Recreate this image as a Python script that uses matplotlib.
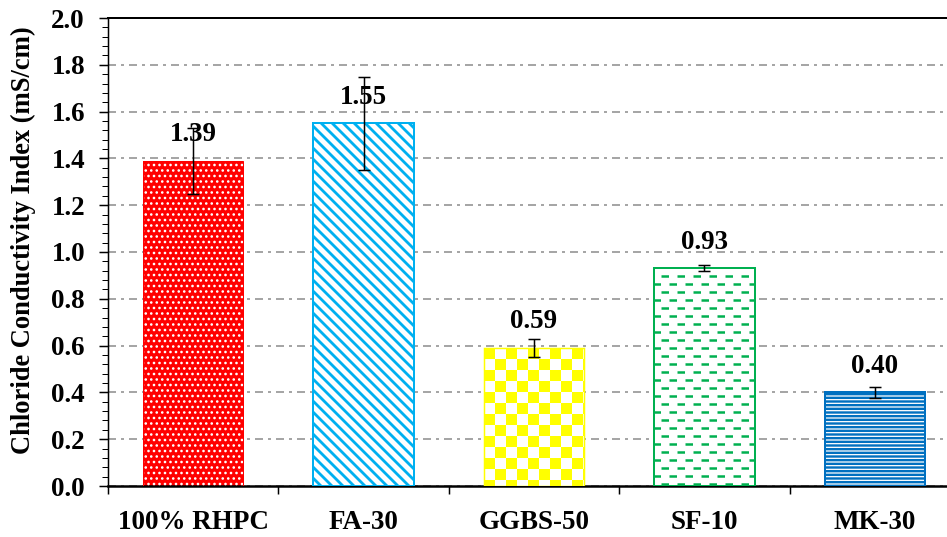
import numpy as np
import matplotlib
matplotlib.use('Agg')
import matplotlib.pyplot as plt
from matplotlib.colors import ListedColormap
from matplotlib.ticker import MultipleLocator, FormatStrFormatter

# chloride conductivity per mix, with standard deviation
mixes = ['100% RHPC', 'FA-30', 'GGBS-50', 'SF-10', 'MK-30']
conductivity = [1.39, 1.55, 0.59, 0.93, 0.40]
errors = [0.14, 0.20, 0.037, 0.013, 0.025]

DPI = 66
PT = 72.0 / DPI  # points per pixel

RED = '#FF0000'
CYAN = '#00B0F0'
YELLOW = '#FFFF00'
GREEN = '#00B050'
BLUE = '#0070C0'

plt.rcParams['font.family'] = 'Liberation Serif'
plt.rcParams['font.weight'] = 'bold'
plt.rcParams['lines.scale_dashes'] = False

W, H = 947, 537
fig = plt.figure(figsize=(W / DPI, H / DPI), dpi=DPI)
ax_w, ax_h = 852, 468
ax = fig.add_axes([108 / W, 51 / H, ax_w / W, ax_h / H])
sx = ax_w / 5.0   # pixels per x unit
sy = ax_h / 2.0   # pixels per y unit

x = np.arange(len(mixes))
width = 0.59

base = ax.bar(x, conductivity, width,
              color=[RED, 'white', 'white', 'white', 'white'],
              edgecolor='none', zorder=2)


def hatch_layer(i, hatch, color, lw_px):
    with plt.rc_context({'hatch.linewidth': lw_px * PT}):
        bars = ax.bar(x[i], conductivity[i], width, facecolor='none',
                      edgecolor=color, hatch=hatch, linewidth=0, zorder=3)
    for b in bars:
        if hasattr(b, 'set_hatch_linewidth'):
            b.set_hatch_linewidth(lw_px * PT)


# 100% RHPC: white dots on red
hatch_layer(0, '..', 'white', 1.5)
# FA-30: diagonal stripes
hatch_layer(1, '\\\\', CYAN, 2.8)
# MK-30: dense horizontal stripes
hatch_layer(4, '---', BLUE, 2.4)

# GGBS-50: checkerboard
b = base[2]
cell = 11.0
nx = int(np.ceil(width * sx / cell))
ny = int(np.ceil(conductivity[2] * sy / cell))
xe = b.get_x() + np.arange(nx + 1) * cell / sx
ye = conductivity[2] - np.arange(ny + 1)[::-1] * cell / sy
cells = np.add.outer(np.arange(ny) + ny + 1, np.arange(nx)) % 2
mesh = ax.pcolormesh(xe, ye, cells, cmap=ListedColormap([YELLOW, 'white']),
                     shading='flat', antialiased=False, zorder=3)
mesh.set_clip_path(b)

# SF-10: staggered green dashes
b = base[3]
step = 8.0 / sy
for k, yy in enumerate(np.arange(conductivity[3] - step, 0, -step)):
    offset = 9.0 if k % 2 == 0 else 1.0
    ln, = ax.plot([b.get_x(), b.get_x() + width], [yy, yy], color=GREEN,
                  lw=2.5 * PT, zorder=3,
                  linestyle=(offset * PT, (7.5 * PT, 8.5 * PT)))
    ln.set_clip_path(b)

# outlines
ax.bar(x, conductivity, width, facecolor='none',
       edgecolor=[RED, CYAN, YELLOW, GREEN, BLUE],
       linewidth=[1.0 * PT, 2.0 * PT, 1.5 * PT, 2.0 * PT, 2.0 * PT], zorder=4)

for xi, v in zip(x, conductivity):
    ax.annotate(f'{v:.2f}', (xi, v), xytext=(0, 26 * PT),
                textcoords='offset points', ha='center', va='center',
                fontsize=27 * PT, fontweight='bold', zorder=5)

ax.errorbar(x, conductivity, yerr=errors, fmt='none', ecolor='black',
            elinewidth=1.5 * PT, capsize=6 * PT, capthick=1.5 * PT, zorder=6)

ax.set_xlim(-0.5, 4.5)
ax.set_ylim(0, 2.0)
ax.yaxis.set_major_locator(MultipleLocator(0.2))
ax.yaxis.set_minor_locator(MultipleLocator(0.04))
ax.yaxis.set_major_formatter(FormatStrFormatter('%.1f'))
ax.set_xticks(x)
ax.set_xticklabels(mixes)
ax.set_xticks(np.arange(-0.5, 5, 1), minor=True)

ax.tick_params(axis='x', which='major', length=0, pad=24 * PT,
               labelsize=27 * PT)
ax.tick_params(axis='x', which='minor', length=8 * PT, width=1.5 * PT,
               direction='out')
ax.tick_params(axis='y', which='major', length=9 * PT, width=1.5 * PT,
               direction='out', pad=14 * PT, labelsize=27 * PT)
ax.tick_params(axis='y', which='minor', length=6 * PT, width=1.0 * PT,
               direction='out')

ax.grid(axis='y', which='major', color='#A6A6A6', lw=2 * PT,
        linestyle=(0, (8 * PT, 5 * PT, 3 * PT, 5 * PT)))
ax.set_axisbelow(True)

ax.spines['left'].set_linewidth(1.5 * PT)
ax.spines['bottom'].set_linewidth(2.5 * PT)
ax.spines['top'].set_linewidth(2.0 * PT)
ax.spines['right'].set_visible(False)

ax.set_ylabel('Chloride Conductivity Index (mS/cm)', fontsize=26.5 * PT,
              fontweight='bold')
ax.yaxis.set_label_coords(-0.085, 0.525)

fig.savefig('out.png', dpi=DPI)
